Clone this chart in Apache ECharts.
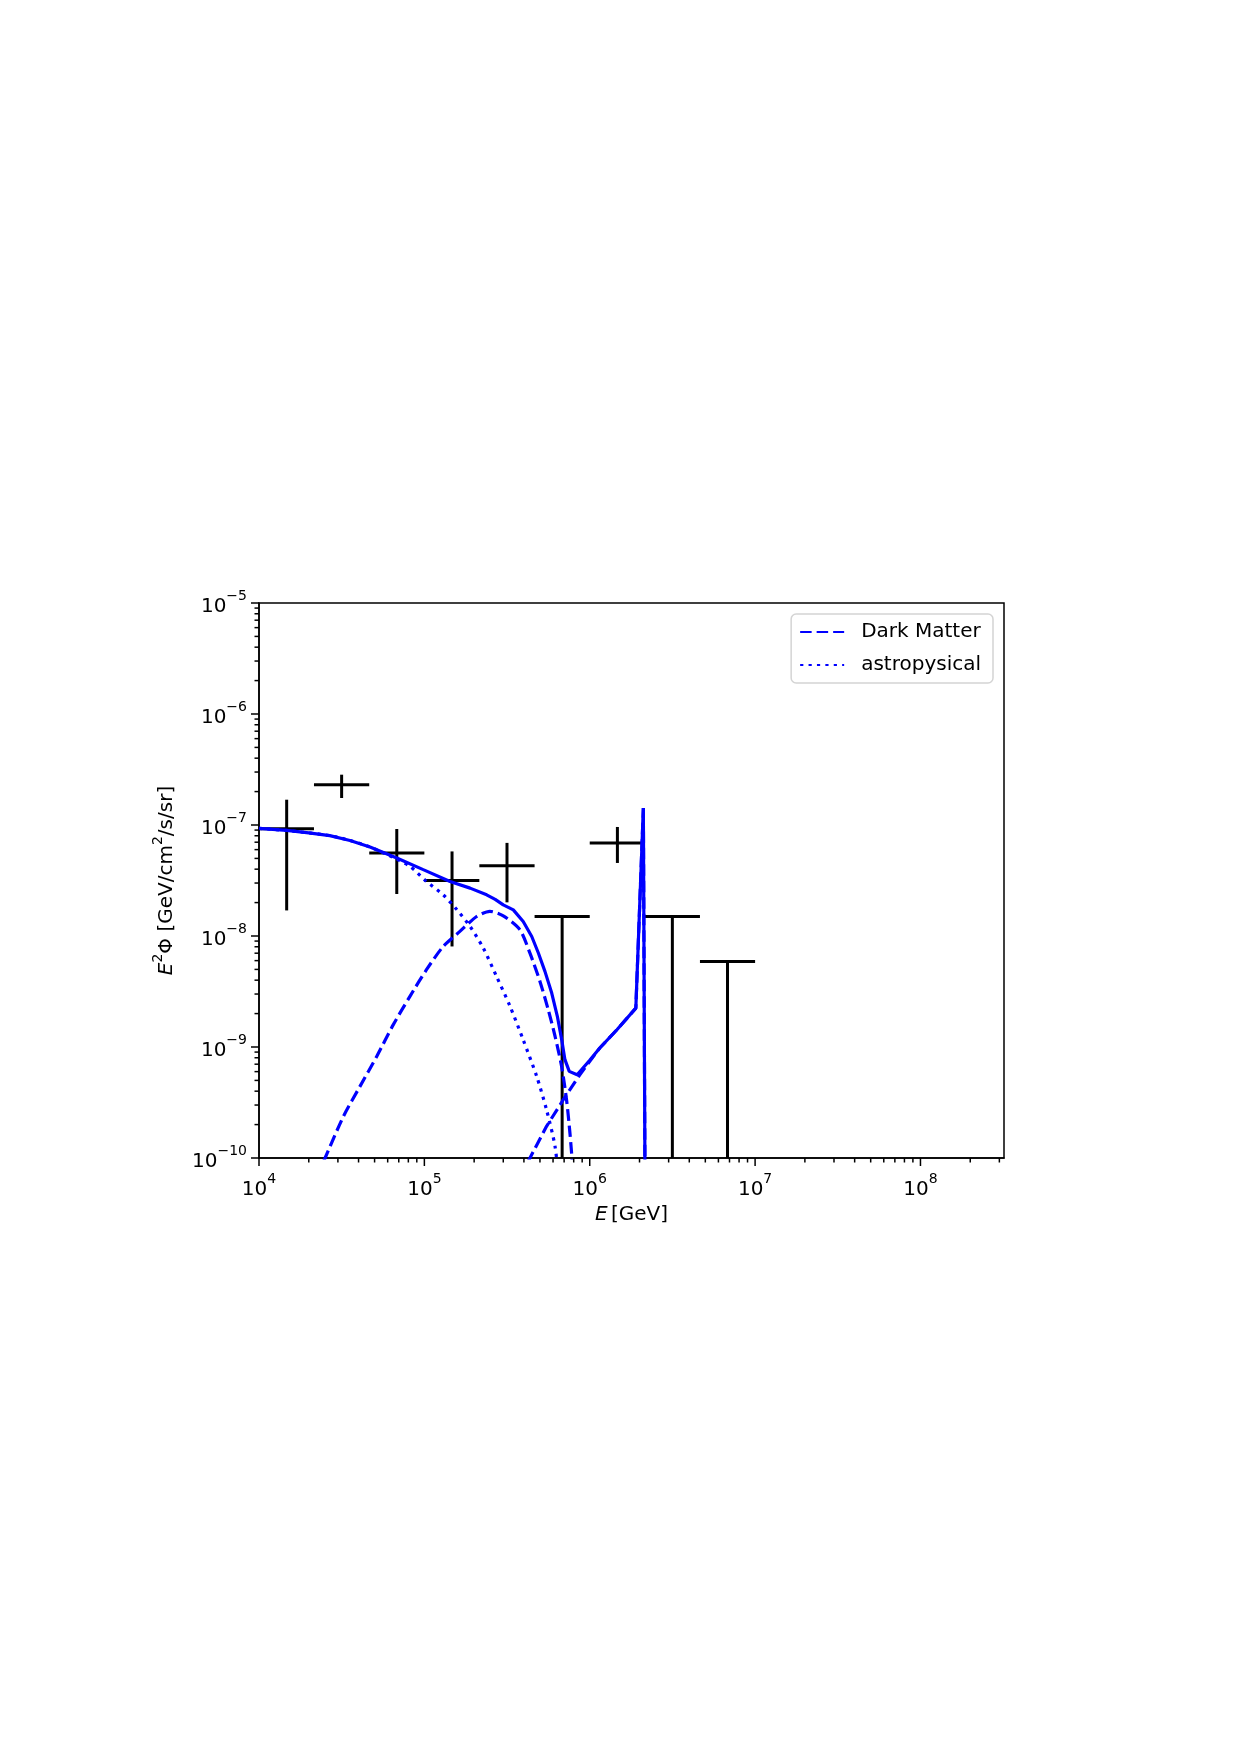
<!DOCTYPE html>
<html>
<head>
<meta charset="utf-8">
<script src="https://cdn.jsdelivr.net/npm/echarts@6/dist/echarts.min.js"></script>
<style>
html, body { margin: 0; padding: 0; background: #fff; }
#chart-container { width: 1240px; height: 1755px; }
</style>
</head>
<body>
<div id="chart-container"></div>
<script>
var dom = document.getElementById('chart-container');
var myChart = echarts.init(dom, null, { renderer: 'canvas' });

// measured flux points (energy bins in GeV)
const binCenter = [1.47e4, 3.16e4, 6.81e4, 1.47e5, 3.16e5, 6.81e5, 1.47e6, 3.16e6, 6.81e6];
const binLo = [1.0e4, 2.15e4, 4.64e4, 1.0e5, 2.15e5, 4.64e5, 1.0e6, 2.15e6, 4.64e6];
const binHi = [2.15e4, 4.64e4, 1.0e5, 2.15e5, 4.64e5, 1.0e6, 2.15e6, 4.64e6, 1.0e7];
const flux = [9.27e-8, 2.31e-7, 5.6e-8, 3.17e-8, 4.3e-8, 1.5e-8, 6.88e-8, 1.5e-8, 5.9e-9];
const fluxLo = [1.7e-8, 1.75e-7, 2.39e-8, 8.05e-9, 2.01e-8, null, 4.55e-8, null, null]; // null = upper limit
const fluxHi = [1.69e-7, 2.84e-7, 9.2e-8, 5.78e-8, 6.9e-8, 1.5e-8, 9.6e-8, 1.5e-8, 5.9e-9];

// model curves
const totalE = [1.0e4, 1.47e4, 2.0e4, 2.68e4, 3.55e4, 4.69e4, 6.81e4, 9.84e4, 1.43e5, 1.89e5, 2.38e5,
  2.68e5, 3.0e5, 3.45e5, 3.96e5, 4.46e5, 4.89e5, 5.36e5, 5.89e5, 6.37e5, 6.77e5, 7.08e5, 7.52e5, 8.39e5,
  1.0e6, 1.15e6, 1.46e6, 1.90e6, 2.11e6, 2.16e6];
const totalFlux = [9.33e-8, 8.93e-8, 8.5e-8, 8.02e-8, 7.26e-8, 6.34e-8, 5.05e-8, 3.96e-8, 3.10e-8, 2.70e-8, 2.35e-8,
  2.14e-8, 1.91e-8, 1.72e-8, 1.35e-8, 9.9e-9, 7.03e-9, 4.8e-9, 3.06e-9, 1.89e-9, 1.16e-9, 7.69e-10, 6.03e-10, 5.62e-10,
  7.6e-10, 9.8e-10, 1.43e-9, 2.24e-9, 1.42e-7, 5e-11];

const astroE = [1.0e4, 1.47e4, 2.68e4, 3.55e4, 4.69e4, 6.05e4, 8.18e4, 1.03e5, 1.30e5, 1.57e5, 1.89e5,
  2.27e5, 2.73e5, 3.30e5, 3.96e5, 4.78e5, 5.48e5, 6.17e5, 6.6e5];
const astroFlux = [9.33e-8, 8.93e-8, 8.02e-8, 7.26e-8, 6.34e-8, 5.35e-8, 4.24e-8, 3.10e-8, 2.35e-8, 1.73e-8, 1.22e-8,
  7.8e-9, 4.33e-9, 2.32e-9, 1.16e-9, 5.43e-10, 2.72e-10, 1.27e-10, 5e-11];

const dmE = [2.05e4, 2.51e4, 3.24e4, 4.08e4, 5.15e4, 6.49e4, 8.18e4, 1.03e5, 1.30e5, 1.64e5, 2.07e5,
  2.49e5, 3.0e5, 3.78e5, 4.35e5, 5.0e5, 5.61e5, 6.17e5, 6.76e5, 7.24e5, 7.59e5, 7.85e5, 8.04e5];
const dmFlux = [5e-11, 1.0e-10, 2.37e-10, 4.42e-10, 8.22e-10, 1.59e-9, 2.86e-9, 4.97e-9, 8.05e-9, 1.10e-8, 1.50e-8,
  1.67e-8, 1.52e-8, 1.14e-8, 7.0e-9, 3.9e-9, 2.17e-9, 1.25e-9, 6.68e-10, 3.35e-10, 1.68e-10, 9e-11, 5e-11];

const dmLineE = [3.4e5, 4.35e5, 5.48e5, 6.92e5, 8.71e5, 1.15e6, 1.46e6, 1.90e6, 2.11e6, 2.16e6];
const dmLineFlux = [5e-11, 1.0e-10, 1.93e-10, 3.35e-10, 5.62e-10, 9.8e-10, 1.43e-9, 2.24e-9, 1.42e-7, 5e-11];

// axes
const xMin = 1e4, xMax = 3.2e8, yMin = 1e-10, yMax = 1e-5;
const xMajor = [1e4, 1e5, 1e6, 1e7, 1e8];
const yMajor = [1e-10, 1e-9, 1e-8, 1e-7, 1e-6, 1e-5];

const font = 'DejaVu Sans';
const blue = '#0000ff';
const lw = 3.2;

function minorTicks(majors, hi) {
  var out = [];
  majors.forEach(function (m) {
    for (var k = 2; k <= 9; k++) {
      if (m * k <= hi * 1.0001) out.push(m * k);
    }
  });
  return out;
}
const xMinor = minorTicks(xMajor, xMax);
const yMinor = minorTicks(yMajor.slice(0, -1), yMax);

function pow10Label(value) {
  var e = Math.log10(value);
  if (Math.abs(e - Math.round(e)) > 1e-6) return '';
  e = Math.round(e);
  return '{b|10}{s|' + String(e).replace('-', '\u2212') + '}';
}
const labelRich = {
  b: { fontSize: 20, fontFamily: font, color: '#000', verticalAlign: 'bottom', lineHeight: 28 },
  s: { fontSize: 14, fontFamily: font, color: '#000', verticalAlign: 'top', lineHeight: 14 }
};

function tickSeries(values, len, isX) {
  return {
    type: 'custom',
    silent: true,
    clip: false,
    z: 5,
    data: values.map(function (v) { return isX ? [v, yMin] : [xMin, v]; }),
    renderItem: function (params, api) {
      var p = api.coord([api.value(0), api.value(1)]);
      var shape = isX
        ? { x1: p[0], y1: p[1], x2: p[0], y2: p[1] + len }
        : { x1: p[0], y1: p[1], x2: p[0] - len, y2: p[1] };
      return { type: 'line', shape: shape, style: { stroke: '#000', lineWidth: 1.5 } };
    }
  };
}

function pairs(xs, ys) {
  return xs.map(function (e, i) { return [e, ys[i]]; });
}

const errData = binCenter.map(function (c, i) {
  return [c, flux[i], binLo[i], binHi[i], fluxLo[i] == null ? yMin : fluxLo[i], fluxHi[i]];
});

var option = {
  animation: false,
  backgroundColor: '#fff',
  grid: {
    left: 259, right: 236, top: 603, bottom: 597,
    show: true, borderColor: '#000', borderWidth: 1.5
  },
  legend: {
    data: ['Dark Matter', 'astropysical'],
    orient: 'vertical',
    align: 'left',
    right: 247,
    top: 614,
    itemWidth: 44,
    itemHeight: 14,
    itemGap: 13,
    padding: [8, 12, 8, 8],
    backgroundColor: '#fff',
    borderColor: '#d4d4d4',
    borderWidth: 1.5,
    borderRadius: 5,
    itemStyle: { opacity: 0 },
    textStyle: { fontSize: 20, fontFamily: font, color: '#000', padding: [0, 0, 0, 12] }
  },
  xAxis: {
    type: 'log',
    logBase: 10,
    min: xMin,
    max: xMax,
    name: '{i|E} {n|[GeV]}',
    nameLocation: 'middle',
    nameGap: 47,
    nameTextStyle: {
      rich: {
        i: { fontSize: 20, fontFamily: font, fontStyle: 'italic', color: '#000' },
        n: { fontSize: 20, fontFamily: font, color: '#000' }
      }
    },
    axisLine: { lineStyle: { color: '#000', width: 1.5 } },
    axisTick: { show: false },
    splitLine: { show: false },
    axisLabel: { margin: 14, formatter: pow10Label, rich: labelRich }
  },
  yAxis: {
    type: 'log',
    logBase: 10,
    min: yMin,
    max: yMax,
    name: '{i|E}{s|2}{n|\u03a6 [GeV/cm}{s|2}{n|/s/sr]}',
    nameLocation: 'middle',
    nameRotate: 90,
    nameGap: 82,
    nameTextStyle: {
      rich: {
        i: { fontSize: 20, fontFamily: font, fontStyle: 'italic', color: '#000', verticalAlign: 'bottom', lineHeight: 26 },
        n: { fontSize: 20, fontFamily: font, color: '#000', verticalAlign: 'bottom', lineHeight: 26 },
        s: { fontSize: 14, fontFamily: font, color: '#000', verticalAlign: 'top', lineHeight: 14 }
      }
    },
    axisLine: { lineStyle: { color: '#000', width: 1.5 } },
    axisTick: { show: false },
    splitLine: { show: false },
    axisLabel: { margin: 12, formatter: pow10Label, rich: labelRich }
  },
  series: [
    tickSeries(xMajor, 8, true),
    tickSeries(xMinor, 4.5, true),
    tickSeries(yMajor, 8, false),
    tickSeries(yMinor, 4.5, false),
    {
      name: 'data',
      type: 'custom',
      z: 2,
      encode: { x: [0, 2, 3], y: [1, 4, 5] },
      data: errData,
      renderItem: function (params, api) {
        var l = api.coord([api.value(2), api.value(1)]);
        var r = api.coord([api.value(3), api.value(1)]);
        var lo = api.coord([api.value(0), api.value(4)]);
        var hi = api.coord([api.value(0), api.value(5)]);
        var st = { stroke: '#000', lineWidth: 3 };
        return {
          type: 'group',
          children: [
            { type: 'line', shape: { x1: l[0], y1: l[1], x2: r[0], y2: r[1] }, style: st },
            { type: 'line', shape: { x1: lo[0], y1: lo[1], x2: hi[0], y2: hi[1] }, style: st }
          ]
        };
      }
    },
    {
      name: 'total',
      type: 'line',
      z: 4,
      symbol: 'none',
      data: pairs(totalE, totalFlux),
      lineStyle: { color: blue, width: lw, type: 'solid' }
    },
    {
      name: 'Dark Matter',
      type: 'line',
      z: 3,
      symbol: 'none',
      smooth: 0.25,
      data: pairs(dmE, dmFlux),
      itemStyle: { color: blue },
      lineStyle: { color: blue, width: lw, type: [11.5, 5] }
    },
    {
      name: 'Dark Matter',
      type: 'line',
      z: 3,
      symbol: 'none',
      data: pairs(dmLineE, dmLineFlux),
      itemStyle: { color: blue },
      lineStyle: { color: blue, width: lw, type: [11.5, 5] }
    },
    {
      name: 'astropysical',
      type: 'line',
      z: 3,
      symbol: 'none',
      smooth: 0.25,
      data: pairs(astroE, astroFlux),
      itemStyle: { color: blue },
      lineStyle: { color: blue, width: lw, type: [3.2, 5.2] }
    }
  ]
};

myChart.setOption(option);
window.addEventListener('resize', myChart.resize);
</script>
</body>
</html>
